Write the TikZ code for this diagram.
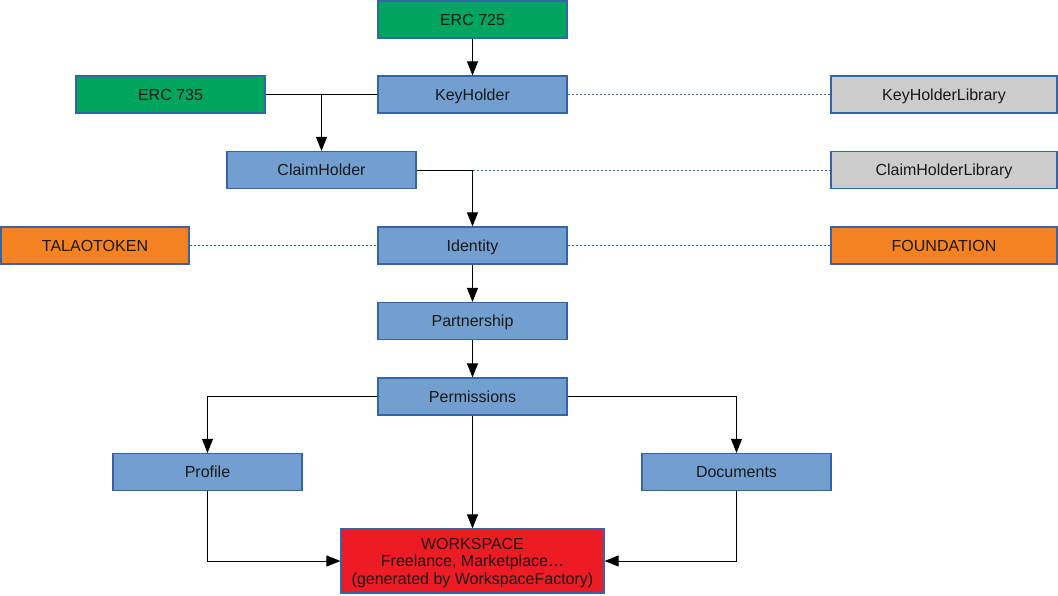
\documentclass[tikz,border=0pt]{standalone}
\usepackage{fontspec}
\setmainfont{Liberation Sans}
\usetikzlibrary{arrows.meta}
\definecolor{boxblue}{HTML}{729FCF}
\definecolor{edgeblue}{HTML}{3465A4}
\definecolor{ercgreen}{HTML}{00A65D}
\definecolor{libgrey}{HTML}{CCCCCC}
\definecolor{tokorange}{HTML}{F58220}
\definecolor{wsred}{HTML}{ED1C24}
\begin{document}
\begin{tikzpicture}[x=1pt,y=-1pt,
  box/.style={draw=edgeblue, line width=1.2pt, minimum width=189pt, minimum height=37pt,
    inner sep=0pt, font=\fontsize{16}{17.5}\selectfont, align=center, text=black!90},
  single/.style={box, text height=11.5pt, text depth=0pt},
  contract/.style={single, fill=boxblue},
  erc/.style={single, fill=ercgreen},
  lib/.style={single, fill=libgrey, minimum width=226pt},
  ext/.style={single, fill=tokorange},
  flow/.style={line width=1pt, -{Triangle[length=14pt,width=11pt]}},
  link/.style={line width=1pt},
  assoc/.style={draw=edgeblue, line width=1pt, dash pattern=on 2pt off 2pt}]
\useasboundingbox (0,0) rectangle (1058,595);

% contracts
\node[erc] (erc725) at (472.5,19.5) {ERC 725};
\node[contract] (keyholder) at (472.5,94.5) {KeyHolder};
\node[erc] (erc735) at (170.5,94.5) {ERC 735};
\node[lib] (keylib) at (944,94.5) {KeyHolderLibrary};
\node[contract] (claimholder) at (321.5,170) {ClaimHolder};
\node[lib] (claimlib) at (944,170) {ClaimHolderLibrary};
\node[ext, minimum width=188pt] (token) at (95,245.5) {TALAOTOKEN};
\node[contract] (identity) at (472.5,245.5) {Identity};
\node[ext, minimum width=226pt] (foundation) at (944,245.5) {FOUNDATION};
\node[contract] (partnership) at (472.5,321) {Partnership};
\node[contract] (permissions) at (472.5,396.5) {Permissions};
\node[contract] (profile) at (207.5,472) {Profile};
\node[contract] (documents) at (736.5,472) {Documents};
\node[box, fill=wsred, minimum width=263pt, minimum height=64pt,
  text height=46.5pt, text depth=0pt] (workspace) at (472.5,561)
  {WORKSPACE\\Freelance, Marketplace…\\(generated by WorkspaceFactory)};

% library / token associations
\draw[assoc] (keyholder.east) -- (keylib.west);
\draw[assoc] (claimholder.east) -- (claimlib.west);
\draw[assoc] (token.east) -- (identity.west);
\draw[assoc] (identity.east) -- (foundation.west);

% inheritance flow
\coordinate (split) at (321.5,94.5);
\draw[flow] (erc725) -- (keyholder);
\draw[link] (erc735.east) -- (keyholder.west);
\draw[flow] (split) -- (claimholder.north);
\draw[flow] (claimholder.east) -| (identity.north);
\draw[flow] (identity) -- (partnership);
\draw[flow] (partnership) -- (permissions);
\draw[flow] (permissions.west) -| (profile.north);
\draw[flow] (permissions.east) -| (documents.north);
\draw[flow] (permissions) -- (workspace);
\draw[flow] (profile.south) |- (workspace.west);
\draw[flow] (documents.south) |- (workspace.east);
\end{tikzpicture}
\end{document}
